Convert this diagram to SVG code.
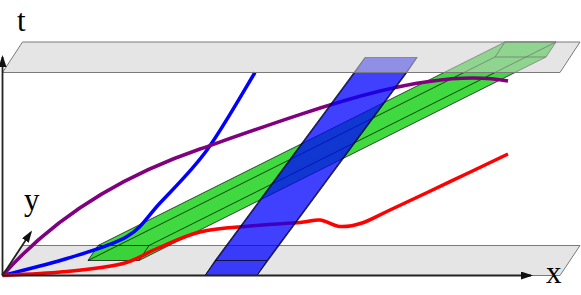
<svg xmlns="http://www.w3.org/2000/svg" width="581" height="295" viewBox="0 0 581 295">
  <style>
    .plane { fill: #cfcfcf; fill-opacity: 0.55; stroke: #7a7a7a; stroke-width: 1; stroke-linejoin: round; }
    .edge { fill: none; stroke: #000; stroke-opacity: 0.7; stroke-width: 1; stroke-linejoin: round; }
    .green { fill: #00cc00; fill-opacity: 0.75; stroke: #000; stroke-opacity: 0.7; stroke-width: 1; stroke-linejoin: round; }
    .blue { fill: #0000ff; fill-opacity: 0.75; stroke: #000; stroke-opacity: 0.7; stroke-width: 1; stroke-linejoin: round; }
    .wl { fill: none; stroke-width: 3.5; stroke-linecap: butt; stroke-linejoin: round; }
    .axis { fill: none; stroke: #222; stroke-width: 1.8; marker-end: url(#arr); }
    .lbl { font-family: "Liberation Serif", "Times New Roman", serif; font-size: 31px; fill: #000; }
  </style>
  <defs>
    <marker id="arr" viewBox="0 0 12 8" refX="10" refY="4" markerWidth="12" markerHeight="8" markerUnits="userSpaceOnUse" orient="auto">
      <path d="M0,0 L12,4 L0,8 Z" fill="#111"/>
    </marker>
  </defs>

  <g id="plane-bottom">
    <polygon class="plane" points="22.5,245.5 580,245.5 560,275.5 2.5,275.5"/>
  </g>

  <g id="prism-green">
    <polygon class="green" points="139,260.5 88,260.5 98,245.5 505,42 556,42 546,57"/>
    <path class="edge" d="M98,245.5 L149,245.5 L139,260.5 M88,260.5 L495,57 M149,245.5 L556,42 M505,42 L495,57 L546,57"/>
  </g>

  <g id="worldlines">
    <path id="wl-blue" class="wl" stroke="#0000ff" d="M2.5,275.5 C13.25,272.7 46.25,265 67,258.5 C87.75,252 111.5,245.75 127,236.5 C142.5,227.25 146.67,217.42 160,203 C173.33,188.58 191.17,171.75 207,150 C222.83,128.25 247,85.4 255,72.5"/>
    <path id="wl-purple" class="wl" stroke="#800080" d="M2.5,275.5 C58,213 130,173 200,149 C320,107 430,66 508,81"/>
    <path id="wl-red" class="wl" stroke="#ff0000" d="M2.5,275.5 C13.25,274.83 46.92,273.5 67,271.5 C87.08,269.5 108,267.33 123,263.5 C138,259.67 144.17,253.75 157,248.5 C169.83,243.25 184.5,235.75 200,232 C215.5,228.25 233.33,227.58 250,226 C266.67,224.42 288.33,223.5 300,222.5 C311.67,221.5 313.33,219.33 320,220 C326.67,220.67 333,226 340,226.5 C347,227 353.67,225.75 362,223 C370.33,220.25 375.33,216.88 390,210 C404.67,203.12 430.33,191.03 450,181.7 C469.67,172.37 498.33,158.62 508,154"/>
  </g>

  <g id="slab-blue">
    <polygon class="blue" points="257,275.5 205,275.5 215,260.5 365,57.5 417,57.5 407,72.5"/>
    <path class="edge" d="M215,260.5 L267,260.5 L257,275.5 M205,275.5 L355,72.5 M267,260.5 L417,57.5 M365,57.5 L355,72.5 L407,72.5"/>
  </g>

  <g id="plane-top">
    <polygon class="plane" points="22.5,42 580,42 560,72.5 2.5,72.5"/>
  </g>

  <g id="axes">
    <line id="axis-x" class="axis" x1="2.5" y1="275.5" x2="531" y2="275.5"/>
    <line id="axis-t" class="axis" x1="2.5" y1="275.5" x2="2.5" y2="57"/>
    <line id="axis-y" class="axis" x1="2.5" y1="275.5" x2="30.9" y2="232.2"/>
    <text class="lbl" x="17" y="31">t</text>
    <text class="lbl" x="24" y="210">y</text>
    <text class="lbl" x="546" y="283">x</text>
  </g>
</svg>
